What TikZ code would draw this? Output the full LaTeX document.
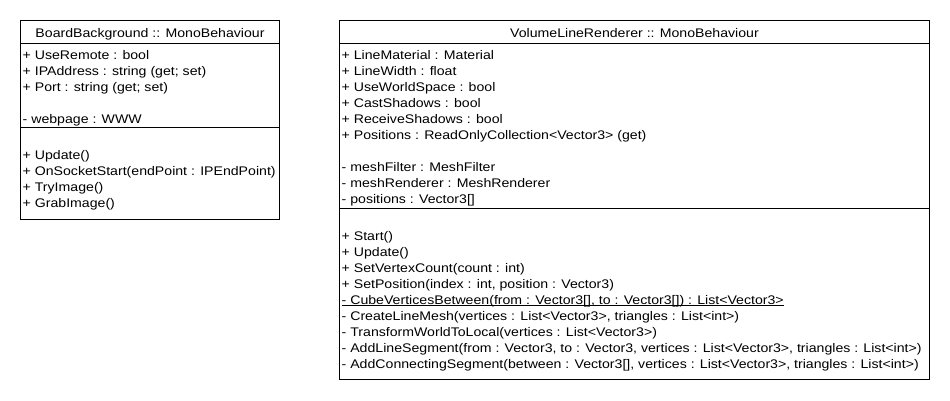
\documentclass[tikz,border=0pt]{standalone}
\usepackage{fontspec}
\setmainfont[FakeStretch=1.13]{Liberation Sans}
\begin{document}
\begin{tikzpicture}[x=1pt,y=-1pt,
  txt/.style={inner sep=0pt, anchor=base west, font=\fontsize{12.5}{16}\selectfont},
  ttl/.style={inner sep=0pt, anchor=base, font=\fontsize{12.5}{16}\selectfont},
  umlline/.style={draw=black, line width=1pt}]
\useasboundingbox[fill=white] (0,0) rectangle (950,400);
% ---- BoardBackground
\draw[umlline] (20.5,20.5) rectangle (279.5,219.5);
\draw[umlline] (20.5,43.5) -- (279.5,43.5);
\draw[umlline] (20.5,127.5) -- (279.5,127.5);
\node[ttl] (bbt) at (150,37.5) {BoardBackground :: MonoBehaviour};
\node[txt] (bba1) at (22.5,59) {+ UseRemote : bool};
\node[txt] (bba2) at (22.5,75) {+ IPAddress : string (get; set)};
\node[txt] (bba3) at (22.5,91) {+ Port : string (get; set)};
\node[txt] (bba4) at (22.5,123) {- webpage : WWW};
\node[txt] (bbm1) at (22.5,159.5) {+ Update()};
\node[txt] (bbm2) at (22.5,175.5) {+ OnSocketStart(endPoint : IPEndPoint)};
\node[txt] (bbm3) at (22.5,191.5) {+ TryImage()};
\node[txt] (bbm4) at (22.5,207.5) {+ GrabImage()};
% ---- VolumeLineRenderer
\draw[umlline] (339.5,20.5) rectangle (929.5,379.5);
\draw[umlline] (339.5,43.5) -- (929.5,43.5);
\draw[umlline] (339.5,208.5) -- (929.5,208.5);
\node[ttl] (vlt) at (634.5,37.5) {VolumeLineRenderer :: MonoBehaviour};
\node[txt] (va1) at (341.5,59) {+ LineMaterial : Material};
\node[txt] (va2) at (341.5,75) {+ LineWidth : float};
\node[txt] (va3) at (341.5,91) {+ UseWorldSpace : bool};
\node[txt] (va4) at (341.5,107) {+ CastShadows : bool};
\node[txt] (va5) at (341.5,123) {+ ReceiveShadows : bool};
\node[txt] (va6) at (341.5,139) {+ Positions : ReadOnlyCollection<Vector3> (get)};
\node[txt] (va7) at (341.5,171) {- meshFilter : MeshFilter};
\node[txt] (va8) at (341.5,187) {- meshRenderer : MeshRenderer};
\node[txt] (va9) at (341.5,203) {- positions : Vector3[]};
\node[txt] (vm1) at (341.5,240) {+ Start()};
\node[txt] (vm2) at (341.5,256) {+ Update()};
\node[txt] (vm3) at (341.5,272) {+ SetVertexCount(count : int)};
\node[txt] (vm4) at (341.5,288) {+ SetPosition(index : int, position : Vector3)};
\node[txt] (vm5) at (341.5,304) {- CubeVerticesBetween(from : Vector3[], to : Vector3[]) : List<Vector3>};
\draw[line width=0.9pt] ([yshift=-1.6pt]vm5.base west) -- ([yshift=-1.6pt]vm5.base east);
\node[txt] (vm6) at (341.5,320) {- CreateLineMesh(vertices : List<Vector3>, triangles : List<int>)};
\node[txt] (vm7) at (341.5,336) {- TransformWorldToLocal(vertices : List<Vector3>)};
\node[txt] (vm8) at (341.5,352) {- AddLineSegment(from : Vector3, to : Vector3, vertices : List<Vector3>, triangles : List<int>)};
\node[txt] (vm9) at (341.5,368) {- AddConnectingSegment(between : Vector3[], vertices : List<Vector3>, triangles : List<int>)};
\end{tikzpicture}
\end{document}
